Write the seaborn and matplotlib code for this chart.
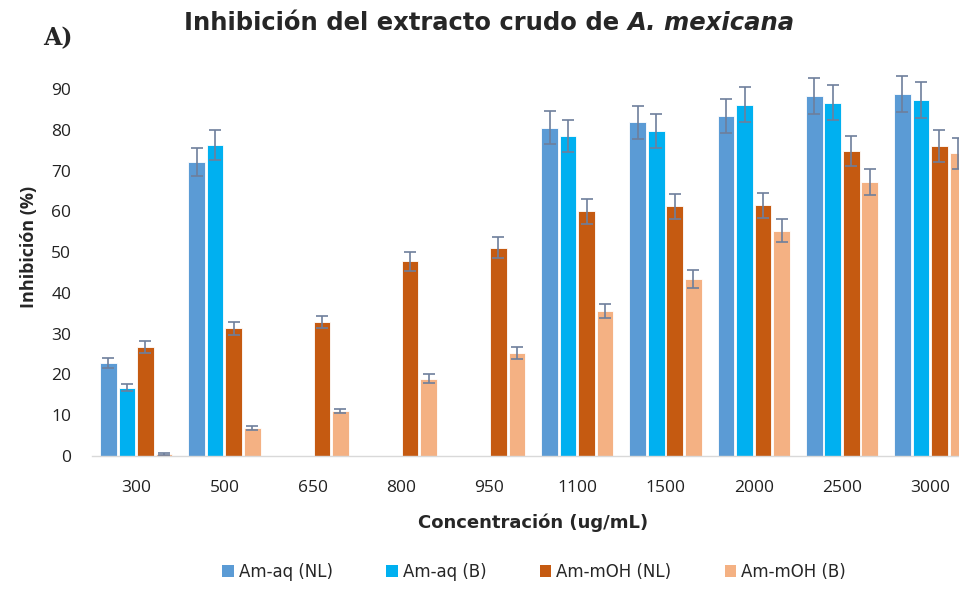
import matplotlib
matplotlib.use("Agg")
import matplotlib.pyplot as plt
import numpy as np
import pandas as pd
import seaborn as sns
from matplotlib.patches import Patch

concentrations = ["300", "500", "650", "800", "950", "1100", "1500", "2000", "2500", "3000"]
series = ["Am-aq (NL)", "Am-aq (B)", "Am-mOH (NL)", "Am-mOH (B)"]
colors = ["#5B9BD5", "#00B0F0", "#C55A11", "#F4B183"]

aq_nl = [22.8, 72.1, np.nan, np.nan, np.nan, 80.5, 81.8, 83.4, 88.2, 88.8]
aq_b = [16.8, 76.3, np.nan, np.nan, np.nan, 78.5, 79.7, 86.2, 86.6, 87.2]
moh_nl = [26.7, 31.3, 32.9, 47.7, 51.1, 60.0, 61.2, 61.5, 74.8, 76.0]
moh_b = [0.5, 6.9, 11.0, 19.0, 25.2, 35.6, 43.3, 55.3, 67.1, 74.2]

aq_nl_err = [1.2, 3.4, np.nan, np.nan, np.nan, 4.0, 4.0, 4.2, 4.4, 4.5]
aq_b_err = [0.8, 3.7, np.nan, np.nan, np.nan, 3.9, 4.1, 4.3, 4.3, 4.4]
moh_nl_err = [1.4, 1.6, 1.5, 2.3, 2.6, 3.0, 3.1, 3.1, 3.7, 3.9]
moh_b_err = [0.2, 0.4, 0.5, 1.0, 1.5, 1.8, 2.2, 2.7, 3.2, 3.8]

values = [aq_nl, aq_b, moh_nl, moh_b]
errors = [aq_nl_err, aq_b_err, moh_nl_err, moh_b_err]

rows = []
for name, vals, errs in zip(series, values, errors):
    for c, v, e in zip(concentrations, vals, errs):
        rows.append({"conc": c, "serie": name, "inhib": v, "err": e})
df = pd.DataFrame(rows).dropna()

sns.set_theme(style="white")
plt.rcParams["font.family"] = ["Open Sans", "DejaVu Sans"]

fig = plt.figure(figsize=(9.59, 5.9), dpi=100)
ax = fig.add_axes([0.096, 0.2271, 0.92, 0.6566])

sns.barplot(data=df, x="conc", y="inhib", hue="serie", order=concentrations,
            hue_order=series, palette=colors, saturation=1, width=0.84, gap=0.1,
            edgecolor="white", linewidth=0.6, errorbar=None, legend=False, ax=ax)

# error bars placed on the bars seaborn drew
err_lookup = {(s, c): e for s, c, e in zip(df["serie"], df["conc"], df["err"])}
for s, cont in zip(series, ax.containers):
    for bar in cont:
        h = bar.get_height()
        if not np.isfinite(h):
            continue
        xc = bar.get_x() + bar.get_width() / 2
        c = concentrations[int(round(xc))]
        e = err_lookup.get((s, c))
        if e is None:
            continue
        ax.errorbar(xc, h, yerr=e, fmt="none", ecolor="#6E7F9C", elinewidth=1.2,
                    capsize=4, capthick=1.2, zorder=5)

ax.set_ylim(0, 95)
ax.set_xlim(-0.5, len(concentrations) - 0.5)
ax.set_yticks(range(0, 91, 10))
ax.tick_params(axis="x", pad=17, labelsize=12.5, length=0, colors="#222222")
ax.tick_params(axis="y", pad=15, labelsize=12.5, length=0, colors="#222222")
for sp in ["top", "right", "left"]:
    ax.spines[sp].set_visible(False)
ax.spines["bottom"].set_color("#D9D9D9")
ax.spines["bottom"].set_linewidth(1.0)

ax.set_xlabel("Concentración (ug/mL)", fontsize=13, fontweight="bold",
              family="DejaVu Sans", labelpad=13)
ax.set_ylabel("Inhibición (%)", fontsize=13, fontweight="bold")
ax.yaxis.set_label_coords(-0.0612, 0.54)

# title: upright part + italic species name, centred as one line
t1 = fig.text(0, 0.949, "Inhibición del extracto crudo de ", fontsize=17.5,
              fontweight="bold", family="DejaVu Sans", ha="left", va="baseline")
t2 = fig.text(0, 0.949, "A. mexicana", fontsize=17.5, fontweight="bold",
              style="italic", family="DejaVu Sans", ha="left", va="baseline")
fig.canvas.draw()
r = fig.canvas.get_renderer()
w1 = t1.get_window_extent(r).width / fig.bbox.width
w2 = t2.get_window_extent(r).width / fig.bbox.width
x0 = 489 / 959 - (w1 + w2) / 2
t1.set_x(x0)
t2.set_x(x0 + w1)

fig.text(0.045, 0.924, "A)", fontsize=17, fontweight="bold",
         family="DejaVu Serif", ha="left", va="baseline")

handles = [Patch(facecolor=c, edgecolor="none", label=s) for c, s in zip(colors, series)]
fig.legend(handles=handles, loc="center", bbox_to_anchor=(0.557, 0.031), ncol=4,
           frameon=False, prop={"family": "DejaVu Sans", "size": 12},
           handlelength=0.7, handleheight=0.7, handletextpad=0.3, columnspacing=3.2)

fig.savefig("out.png", dpi=100)
